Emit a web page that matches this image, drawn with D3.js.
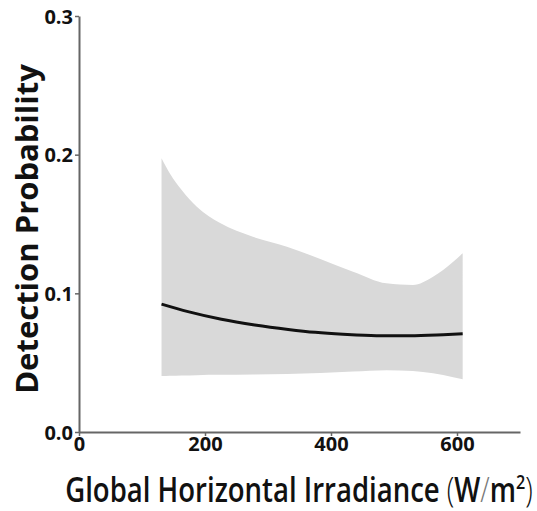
<!DOCTYPE html>
<html><head><meta charset="utf-8">
<script src="https://cdn.jsdelivr.net/npm/d3@7"></script>
<style>body{margin:0;background:#fff}svg{display:block}</style>
</head><body>
<svg id="c" width="537" height="511"></svg>
<script>
const xTicks = [0, 200, 400, 600];
const yTicks = [0.0, 0.1, 0.2, 0.3];
// fitted detection probability
const lineX  = [131, 173, 226, 279, 332, 375, 419, 472, 525, 578, 609];
const fitted = [0.0922, 0.0868, 0.0813, 0.0772, 0.0740, 0.0719, 0.0705, 0.0695, 0.0695, 0.0702, 0.0708];
// confidence band
const bandX  = [131, 144, 163, 187, 224, 276, 330, 383, 435, 488, 530, 562, 594, 609];
const upper  = [0.1974, 0.1866, 0.1745, 0.1625, 0.1507, 0.1408, 0.1336, 0.1248, 0.1156, 0.1072, 0.1060, 0.1120, 0.1228, 0.1289];
const lower  = [0.0404, 0.0406, 0.0408, 0.0410, 0.0412, 0.0414, 0.0418, 0.0425, 0.0436, 0.0446, 0.0440, 0.0423, 0.0395, 0.0380];

const svg = d3.select("#c");
const m = {l:79, t:16, r:17, b:79};
const W = 537, H = 511;
const x = d3.scaleLinear().domain([0,700]).range([m.l, W-m.r]);
const y = d3.scaleLinear().domain([0,0.3]).range([H-m.b, m.t]);
const band = bandX.map((v,i)=>({x:v, u:upper[i], lo:lower[i]}));
const line = lineX.map((v,i)=>({x:v, f:fitted[i]}));

svg.append("path").datum(band)
  .attr("d", d3.area().curve(d3.curveMonotoneX).x(d=>x(d.x)).y0(d=>y(d.lo)).y1(d=>y(d.u)))
  .attr("fill","#d9d9d9");
svg.append("path").datum(line)
  .attr("d", d3.line().curve(d3.curveMonotoneX).x(d=>x(d.x)).y(d=>y(d.f)))
  .attr("fill","none").attr("stroke","#111").attr("stroke-width",3);

const font = "'Open Sans', sans-serif";
const xa = svg.append("g").attr("transform",`translate(0,${H-m.b})`)
  .call(d3.axisBottom(x).tickValues(xTicks).tickFormat(d3.format("d")).tickSize(4).tickSizeOuter(0));
const ya = svg.append("g").attr("transform",`translate(${m.l},0)`)
  .call(d3.axisLeft(y).tickValues(yTicks).tickFormat(d3.format(".1f")).tickSize(4).tickSizeOuter(0));
[xa, ya].forEach(a=>{
  a.select(".domain").attr("stroke","#666").attr("stroke-width",2);
  a.selectAll(".tick line").attr("stroke","#666").attr("stroke-width",1.5);
  a.selectAll(".tick text").attr("fill","#111").style("font-family",font)
    .style("font-weight","700").style("font-size","20px");
});
xa.selectAll(".tick text").attr("dy","0.8em").attr("y",3);
ya.selectAll(".tick text").attr("x",-6).attr("dy","0.35em");

svg.append("text").attr("transform","translate(38,229) rotate(-90)")
  .attr("text-anchor","middle").style("font-family",font).style("font-weight","700")
  .style("font-size","31px").attr("fill","#111").text("Detection Probability");

const xl = svg.append("text").attr("transform","translate(299,502) scale(0.81,1)").attr("text-anchor","middle")
  .style("font-family",font).style("font-weight","600").style("font-size","34px").attr("fill","#111");
xl.append("tspan").text("Global Horizontal Irradiance ");
xl.append("tspan").style("font-weight","300").text("(");
xl.append("tspan").text("W");
xl.append("tspan").style("font-weight","300").attr("fill","#777").text("/");
xl.append("tspan").text("m");
xl.append("tspan").attr("dy","-13").style("font-size","20px").text("2");
xl.append("tspan").attr("dy","13").style("font-weight","300").text(")");
</script>
</body></html>
